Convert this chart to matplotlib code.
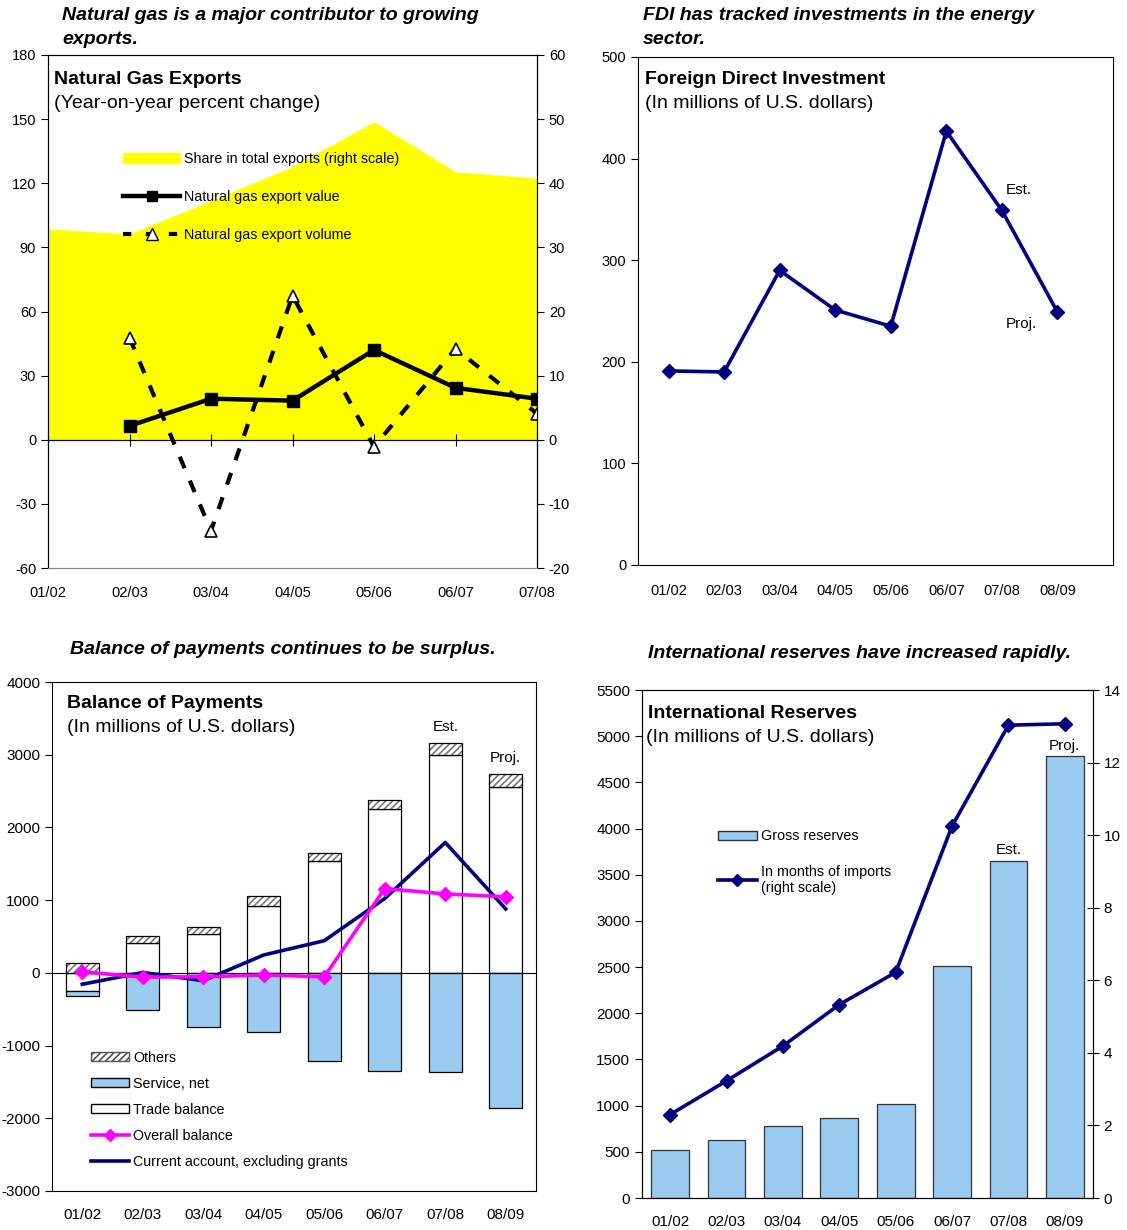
import numpy as np
import matplotlib
matplotlib.use("Agg")
import matplotlib.pyplot as plt
from matplotlib.patches import Patch
from matplotlib.lines import Line2D

plt.rcParams['font.family'] = ['Liberation Sans', 'DejaVu Sans']
plt.rcParams['font.size'] = 10.5
plt.rcParams['axes.unicode_minus'] = False
plt.rcParams['hatch.linewidth'] = 1.2

# ---- data ----
gas_years = ['01/02', '02/03', '03/04', '04/05', '05/06', '06/07', '07/08']
gas_share = [32.9, 32.1, 37.3, 42.6, 49.6, 41.8, 40.8]          # right scale
gas_value = [None, 6.5, 19.2, 18.3, 42.0, 24.3, 19.2]
gas_volume = [None, 47.7, -42.6, 67.4, -3.3, 42.6, 12.2]

years = ['01/02', '02/03', '03/04', '04/05', '05/06', '06/07', '07/08', '08/09']
fdi = [191, 190, 290, 251, 235, 427, 349, 249]

trade = [-255, 413, 535, 918, 1532, 2259, 2996, 2559]
service = [-60, -511, -742, -815, -1218, -1356, -1365, -1857]
others = [140, 98, 94, 138, 118, 118, 162, 182]
overall = [15, -59, -54, -29, -54, 1159, 1085, 1046]
current = [-157, 5, -108, 246, 442, 1022, 1793, 879]

reserves = [524, 623, 779, 870, 1022, 2508, 3644, 4787]
months = [2.30, 3.23, 4.19, 5.33, 6.22, 10.25, 13.03, 13.07]

W, H = 1127, 1230
NAVY = '#000080'
LBLUE = '#99CCF0'
CAP = dict(fontsize=14, fontweight='bold', fontstyle='italic')


def rect(l, t, r, b):
    return [l / W, 1 - b / H, (r - l) / W, (b - t) / H]


def ftext(x, y, s, **kw):
    fig.text(x / W, 1 - y / H, s, va='center', ha='left', **kw)


fig = plt.figure(figsize=(W / 100, H / 100), dpi=100)

# ---------------- natural gas exports ----------------
ax2 = fig.add_axes(rect(48, 55, 537, 568))
ax = ax2.twinx()
ax.yaxis.tick_left()
ax2.yaxis.tick_right()
ax.set_zorder(ax2.get_zorder() + 1)
ax.patch.set_visible(False)

xg = np.arange(len(gas_years))
ax2.fill_between(xg, 0, gas_share, color='#FFFF00', lw=0)
ax2.set_ylim(-20, 60)
ax2.set_yticks(range(-20, 61, 10))
ax.set_ylim(-60, 180)
ax.set_yticks(range(-60, 181, 30))
ax2.set_xlim(0, 6)
ax2.set_xticks(xg)
ax2.set_xticklabels(gas_years)
ax2.tick_params(axis='x', length=0, pad=13)
ax2.tick_params(axis='y', direction='out', length=5)
ax.tick_params(axis='y', direction='out', length=5)
for a in (ax, ax2):
    a.spines['bottom'].set_color('#888888')

vx = [i for i, v in enumerate(gas_value) if v is not None]
ax.plot(vx, [gas_value[i] for i in vx], color='black', lw=3.2, marker='s', ms=8,
        label='Natural gas export value')
ax.plot(vx, [gas_volume[i] for i in vx], color='black', lw=3, ls=(0, (3, 3.2)),
        marker='^', ms=9, mfc='white', mec='black', mew=1.2,
        label='Natural gas export volume')
ax.axhline(0, color='black', lw=0.9)
sec = ax.secondary_xaxis(0.25)
sec.set_xticks(xg)
sec.set_xticklabels([])
sec.tick_params(direction='inout', length=9)
sec.spines['bottom'].set_visible(False)

h = [Patch(color='#FFFF00', label='Share in total exports (right scale)'),
     Line2D([], [], color='black', lw=3.2, marker='s', ms=7, label='Natural gas export value'),
     Line2D([], [], color='black', lw=3, ls=(0, (2, 3.5)), marker='^', ms=8, mfc='white',
            mec='black', label='Natural gas export volume')]
ax.legend(handles=h, loc='upper left', bbox_to_anchor=(0.139, 0.825), frameon=False,
          fontsize=10.25, handlelength=4.0, handletextpad=0.3, labelspacing=1.7, borderpad=0)

ftext(54, 79, 'Natural Gas Exports', fontsize=14, fontweight='bold')
ftext(54, 104, '(Year-on-year percent change)', fontsize=14)
ftext(62, 15, 'Natural gas is a major contributor to growing', **CAP)
ftext(62, 39, 'exports.', **CAP)

# ---------------- FDI ----------------
ax = fig.add_axes(rect(638, 57, 1113, 565))
x = np.arange(len(years))
ax.plot(x, fdi, color=NAVY, lw=2.6, marker='D', ms=7)
ax.set_xlim(-0.55, 8.0)
ax.set_ylim(0, 500)
ax.set_yticks(range(0, 501, 100))
ax.set_xticks(x)
ax.set_xticklabels(years)
ax.tick_params(axis='x', length=0, pad=14)
ax.tick_params(axis='y', direction='out', length=5)
ax.text(6.3, fdi[6] + 20, 'Est.', fontsize=11, ha='center', va='center')
ax.text(6.35, fdi[7] - 12, 'Proj.', fontsize=11, ha='center', va='center')

ftext(645, 79, 'Foreign Direct Investment', fontsize=14, fontweight='bold')
ftext(645, 104, '(In millions of U.S. dollars)', fontsize=14)
ftext(643, 15, 'FDI has tracked investments in the energy', **CAP)
ftext(643, 39, 'sector.', **CAP)

# ---------------- balance of payments ----------------
ax = fig.add_axes(rect(52, 682, 536, 1191))
bw = 0.55
pos = np.zeros(len(years))
neg = np.zeros(len(years))
for vals, kind in ((trade, 'trade'), (service, 'service'), (others, 'others')):
    vals = np.array(vals, dtype=float)
    base = np.where(vals >= 0, pos, neg)
    if kind == 'trade':
        ax.bar(x, vals, bw, bottom=base, color='white', edgecolor='black', lw=0.9)
    elif kind == 'service':
        ax.bar(x, vals, bw, bottom=base, color=LBLUE, edgecolor='black', lw=0.9)
    else:
        ax.bar(x, vals, bw, bottom=base, color='white', edgecolor='#777777', lw=0, hatch='/////')
        ax.bar(x, vals, bw, bottom=base, fill=False, edgecolor='black', lw=0.9)
    pos = np.where(vals >= 0, pos + vals, pos)
    neg = np.where(vals < 0, neg + vals, neg)

ax.axhline(0, color='black', lw=0.8)
ax.plot(x, current, color=NAVY, lw=2.6, zorder=4)
ax.plot(x, overall, color='#FF00FF', lw=2.6, marker='D', ms=7, zorder=5)
ax.set_xlim(-0.5, 7.5)
ax.set_ylim(-3000, 4000)
ax.set_yticks(range(-3000, 4001, 1000))
ax.set_xticks(x)
ax.set_xticklabels(years)
ax.tick_params(axis='both', labelsize=11)
ax.tick_params(axis='x', length=0, pad=12)
ax.tick_params(axis='y', direction='out', length=5)
ax.text(6, pos[6] + 120, 'Est.', fontsize=11, ha='center', va='bottom')
ax.text(7, pos[7] + 120, 'Proj.', fontsize=11, ha='center', va='bottom')

h = [Patch(facecolor='white', edgecolor='#555555', hatch='/////', label='Others'),
     Patch(facecolor=LBLUE, edgecolor='black', label='Service, net'),
     Patch(facecolor='white', edgecolor='black', label='Trade balance'),
     Line2D([], [], color='#FF00FF', lw=2.6, marker='D', ms=6, label='Overall balance'),
     Line2D([], [], color=NAVY, lw=2.6, label='Current account, excluding grants')]
ax.legend(handles=h, loc='upper left', bbox_to_anchor=(0.065, 0.29), frameon=False,
          fontsize=10.25, handlelength=2.7, handleheight=0.6, handletextpad=0.3,
          labelspacing=0.85, borderpad=0)

ftext(67, 704, 'Balance of Payments', fontsize=14, fontweight='bold')
ftext(67, 728, '(In millions of U.S. dollars)', fontsize=14)
ftext(70, 650, 'Balance of payments continues to be surplus.', **CAP)

# ---------------- international reserves ----------------
ax = fig.add_axes(rect(642, 690, 1093, 1198))
ax.bar(x, reserves, 0.67, color=LBLUE, edgecolor='#333333', lw=0.9)
ax.set_xlim(-0.5, 7.5)
ax.set_ylim(0, 5500)
ax.set_yticks(range(0, 5501, 500))
ax.set_xticks(x)
ax.set_xticklabels(years)
ax.tick_params(axis='both', labelsize=11)
ax.tick_params(axis='x', length=0, pad=12)
ax.tick_params(axis='y', direction='out', length=5)
ax.text(6, reserves[6] + 50, 'Est.', fontsize=11, ha='center', va='bottom')
ax.text(7, reserves[7] + 30, 'Proj.', fontsize=11, ha='center', va='bottom')

axr = ax.twinx()
axr.plot(x, months, color=NAVY, lw=2.6, marker='D', ms=7)
axr.set_ylim(0, 14)
axr.set_yticks(range(0, 15, 2))
axr.tick_params(axis='y', direction='inout', length=8, labelsize=11)

h = [Patch(facecolor=LBLUE, edgecolor='#333333', label='Gross reserves'),
     Line2D([], [], color=NAVY, lw=2.6, marker='D', ms=6,
            label='In months of imports\n(right scale)')]
ax.legend(handles=h, loc='upper left', bbox_to_anchor=(0.153, 0.74), frameon=False,
          fontsize=10.25, handlelength=2.7, handleheight=0.6, handletextpad=0.3,
          labelspacing=1.5, borderpad=0)

ftext(648, 713, 'International Reserves', fontsize=14, fontweight='bold')
ftext(646, 738, '(In millions of U.S. dollars)', fontsize=14)
ftext(648, 653, 'International reserves have increased rapidly.', **CAP)

fig.savefig('out.png', dpi=100)
